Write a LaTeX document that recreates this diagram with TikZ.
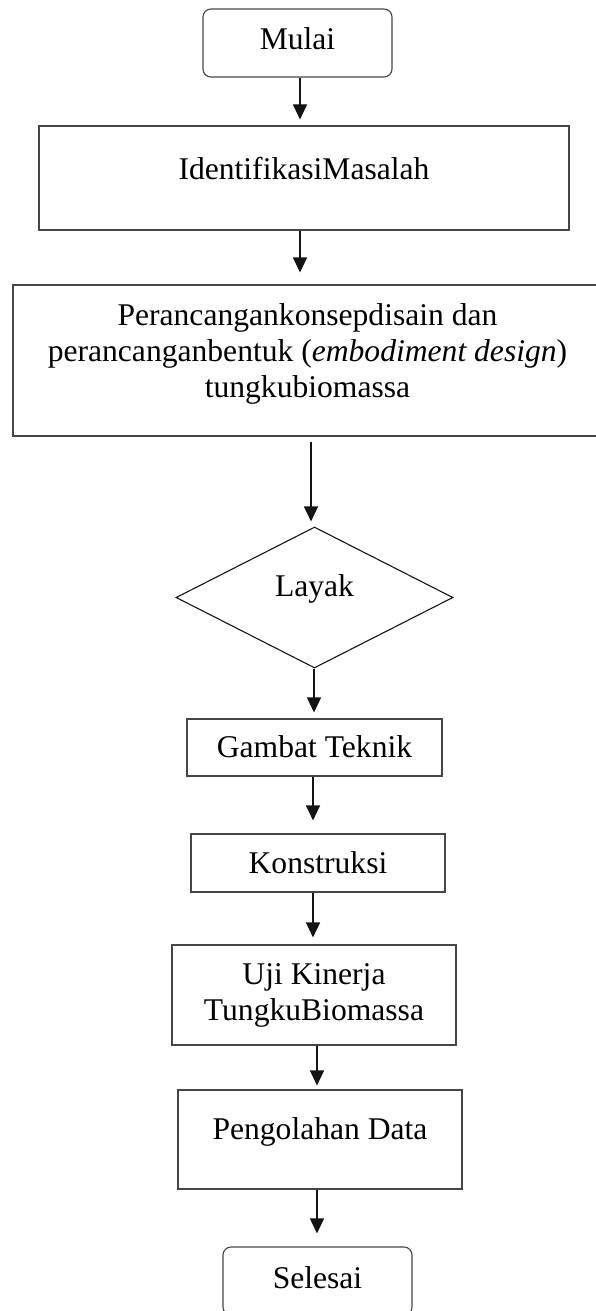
\documentclass[tikz,border=0pt]{standalone}
\usepackage{fontspec}
\setmainfont{Liberation Serif}
\usetikzlibrary{arrows.meta, positioning, shapes.geometric}
\definecolor{BoxLine}{RGB}{70,70,70}
\definecolor{FlowLine}{RGB}{20,20,20}

\tikzset{
  procbox/.style={draw=BoxLine, line width=1.1pt, inner sep=0pt, anchor=base},
  termbox/.style={procbox, rounded corners=8pt},
  flow/.style={-{Triangle[length=15pt,width=14pt]}, line width=1.1pt, color=FlowLine}
}

\begin{document}
\begin{tikzpicture}[x=1pt,y=-1pt, font=\fontsize{31.6}{36}\selectfont]
          \useasboundingbox (0,0) rectangle (595,1311);
          \node[termbox, minimum width=189pt, text height=41pt, text depth=27pt] (mulai) at (297.5,50) {Mulai};
          \node[procbox, minimum width=530pt, text height=53pt, text depth=51pt] (ident) at (304,179) {IdentifikasiMasalah};
          \node[procbox, anchor=center, align=center, minimum width=589pt, minimum height=151pt] (rancang) at (307.5,360.5)
                {Perancangankonsepdisain dan\\perancanganbentuk (\textit{embodiment design})\\tungkubiomassa\rule[-19pt]{0pt}{0pt}};
          \node[diamond, draw=FlowLine, line width=1.1pt, inner sep=0pt, minimum width=277pt, minimum height=141pt,
                text height=20pt, text depth=23pt] (layak) at (314.5,597.5) {Layak};
          \node[procbox, minimum width=255pt, text height=38pt, text depth=19pt] (gambar) at (314.5,757) {Gambat Teknik};
          \node[procbox, minimum width=254pt, text height=39pt, text depth=19pt] (konstruksi) at (318,873) {Konstruksi};
          \node[procbox, anchor=center, align=center, minimum width=284pt, minimum height=100pt] (uji) at (314,995)
                {Uji Kinerja\\TungkuBiomassa};
          \node[procbox, minimum width=284pt, text height=49pt, text depth=50pt] (olah) at (320,1139) {Pengolahan Data};
          \node[termbox, minimum width=189pt, text height=41pt, text depth=27pt] (selesai) at (317.5,1288) {Selesai};

          \draw[flow, shorten >=6pt] (mulai.south -| 300,0) -- (ident.north -| 300,0);
          \draw[flow, shorten >=12pt] (ident.south -| 300,0) -- (rancang.north -| 300,0);
          \draw[flow, shorten <=5pt, shorten >=5pt] (rancang.south -| 311,0) -- (layak.north -| 311,0);
          \draw[flow, shorten >=6pt] (layak.south -| 314,0) -- (gambar.north -| 314,0);
          \draw[flow, shorten >=13pt] (gambar.south -| 313,0) -- (konstruksi.north -| 313,0);
          \draw[flow, shorten >=7pt] (konstruksi.south -| 313,0) -- (uji.north -| 313,0);
          \draw[flow, shorten >=4pt] (uji.south -| 317,0) -- (olah.north -| 317,0);
          \draw[flow, shorten >=13pt] (olah.south -| 317,0) -- (selesai.north -| 317,0);
        \end{tikzpicture}
\end{document}
